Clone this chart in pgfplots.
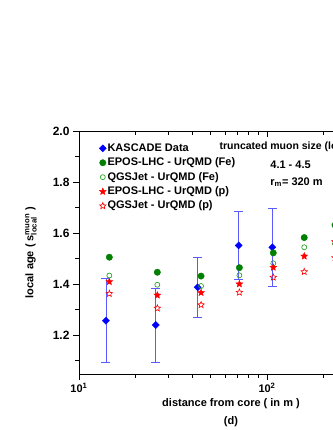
\documentclass[border=0pt]{standalone}
\usepackage{fontspec}
\setmainfont{Liberation Sans}
\usepackage{amsmath}
\usepackage{pgfplots}
\pgfplotsset{compat=1.18}
\definecolor{kblue}{RGB}{0,0,255}
\definecolor{errblue}{RGB}{90,90,255}
\definecolor{fegreen}{RGB}{0,128,0}
\definecolor{feopen}{RGB}{40,165,40}
\definecolor{pred}{RGB}{255,0,0}

% five-pointed star marks (filled and open)
\makeatletter
\def\pstarpath{%
  \pgfpathmoveto{\pgfpointpolar{90}{\pgfplotmarksize}}%
  \pgfpathlineto{\pgfpointpolar{126}{0.45\pgfplotmarksize}}%
  \pgfpathlineto{\pgfpointpolar{162}{\pgfplotmarksize}}%
  \pgfpathlineto{\pgfpointpolar{198}{0.45\pgfplotmarksize}}%
  \pgfpathlineto{\pgfpointpolar{234}{\pgfplotmarksize}}%
  \pgfpathlineto{\pgfpointpolar{270}{0.45\pgfplotmarksize}}%
  \pgfpathlineto{\pgfpointpolar{306}{\pgfplotmarksize}}%
  \pgfpathlineto{\pgfpointpolar{342}{0.45\pgfplotmarksize}}%
  \pgfpathlineto{\pgfpointpolar{18}{\pgfplotmarksize}}%
  \pgfpathlineto{\pgfpointpolar{54}{0.45\pgfplotmarksize}}%
  \pgfpathclose}
\pgfdeclareplotmark{pstar*}{\pstarpath\pgfusepathqfillstroke}
\pgfdeclareplotmark{pstar}{\pstarpath\pgfusepathqstroke}
\makeatother

\begin{document}
\begin{tikzpicture}
  \path[use as bounding box] (-79pt,-56pt) rectangle (253pt,374pt);
  \begin{axis}[
    at={(0,0)}, anchor=south west,
    scale only axis, width=304pt, height=243pt,
    xmode=log, xmin=10, xmax=414,
    ymin=1.047, ymax=2.0,
    xtick={10,100}, xticklabels={10\textsuperscript{1},10\textsuperscript{2}},
    minor xtick={20,30,40,50,60,70,80,90,200,300,400},
    ytick={1.2,1.4,1.6,1.8,2.0}, minor ytick={1.1,1.3,1.5,1.7,1.9},
    xtick pos=left, ytick pos=left, tick align=outside,
    major tick length=6pt, minor tick length=4pt,
    every tick/.style={black, line width=0.8pt},
    axis line style={line width=0.9pt},
    /pgf/number format/assume math mode=true,
    y tick label style={font=\bfseries\fontsize{12}{14}\selectfont,
      /pgf/number format/fixed, /pgf/number format/fixed zerofill,
      /pgf/number format/precision=1},
    x tick label style={font=\bfseries\fontsize{11}{13}\selectfont},
    every axis x label/.style={at={(axis description cs:0.5,0)}, anchor=north,
      yshift=-21pt, align=center, font=\bfseries\fontsize{11}{13}\selectfont},
    every axis y label/.style={at={(axis description cs:-0.158,0.5)}, rotate=90,
      anchor=center, font=\bfseries\fontsize{11}{13}\selectfont},
    xlabel={distance from core ( in m )\\[5pt](d)},
    ylabel={local age ( s$^{\text{muon}}_{\text{local}}$ )},
    legend image code/.code={\draw[mark repeat=2,mark phase=2,#1]
      plot coordinates {(0pt,0pt) (3pt,0pt) (6pt,0pt)};},
    legend style={draw=none, fill=none, inner sep=0pt, row sep=0pt,
      at={(rel axis cs:0.066,0.959)}, anchor=north west,
      font=\bfseries\fontsize{11}{13}\selectfont,
      nodes={inner sep=1.2pt, text height=9pt, text depth=3pt}},
    legend cell align=left,
  ]
    \addplot[only marks, mark=square*, mark size=2.5pt,
      mark options={rotate=45, fill=kblue, draw=kblue},
      error bars/.cd, y dir=both, y explicit,
      error bar style={draw=errblue, line width=0.7pt},
      error mark options={draw=errblue, line width=0.7pt, mark size=4.5pt, rotate=90}]
      coordinates {
        (13.9,1.256) +- (0,0.165)
        (25.6,1.239) +- (0,0.145)
        (42.8,1.387) +- (0,0.119)
        (70.7,1.551) +- (0,0.133)
        (106.7,1.544) +- (0,0.152)
      };
    \addlegendentry{KASCADE Data}
    \addplot[only marks, mark=*, mark size=3.2pt,
      mark options={fill=fegreen, draw=fegreen}]
      coordinates {(14.5,1.505) (26.1,1.446) (44.6,1.431) (71.3,1.464)
        (108,1.522) (157.8,1.582) (230,1.631)};
    \addlegendentry{EPOS-LHC - UrQMD (Fe)}
    \addplot[only marks, mark=o, mark size=2.5pt,
      mark options={draw=feopen, line width=0.7pt}]
      coordinates {(14.5,1.433) (26.1,1.397) (44.6,1.392) (71.3,1.434)
        (108,1.481) (157.8,1.544) (230,1.558)};
    \addlegendentry{QGSJet - UrQMD (Fe)}
    \addplot[only marks, mark=pstar*, mark size=3.6pt,
      mark options={fill=pred, draw=pred, line width=0.4pt}]
      coordinates {(14.5,1.409) (26.1,1.356) (44.6,1.366) (71.3,1.400)
        (108,1.465) (157.8,1.509) (230,1.566)};
    \addlegendentry{EPOS-LHC - UrQMD (p)}
    \addplot[only marks, mark=pstar, mark size=3.4pt,
      mark options={draw=pred, line width=0.6pt}]
      coordinates {(14.5,1.362) (26.1,1.305) (44.6,1.318) (71.3,1.367)
        (108,1.426) (157.8,1.448) (230,1.503)};
    \addlegendentry{QGSJet - UrQMD (p)}

    \node[anchor=west, font=\bfseries\fontsize{10.5}{13}\selectfont]
      at (rel axis cs:0.451,0.934) {truncated muon size (log$_{10}$ N$_\mu$)};
    \node[anchor=west, font=\bfseries\fontsize{11}{13}\selectfont]
      at (rel axis cs:0.618,0.860) {4.1 - 4.5};
    \node[anchor=west, font=\bfseries\fontsize{11}{13}\selectfont]
      at (rel axis cs:0.618,0.790) {r\textsubscript{m}= 320 m};
  \end{axis}
  % top axis: ticks pointing inward
  \begin{axis}[
    at={(0,0)}, anchor=south west,
    scale only axis, width=304pt, height=243pt,
    xmode=log, xmin=10, xmax=414, ymin=1.047, ymax=2.0,
    hide y axis, axis line style={draw=none},
    xtick={10,100}, minor xtick={20,30,40,50,60,70,80,90,200,300,400},
    xticklabels={}, xtick pos=right, tick align=inside,
    major tick length=6pt, minor tick length=4pt,
    every tick/.style={black, line width=0.8pt},
  ]
  \end{axis}
\end{tikzpicture}
\end{document}
